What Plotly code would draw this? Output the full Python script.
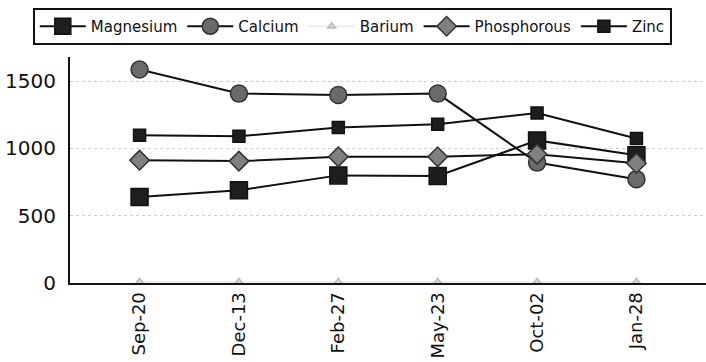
import plotly.graph_objects as go

categories = ["Sep-20", "Dec-13", "Feb-27", "May-23", "Oct-02", "Jan-28"]
magnesium = [640, 690, 800, 795, 1060, 950]
calcium = [1587, 1408, 1398, 1408, 895, 772]
barium = [8, 8, 8, 8, 8, 8]
phosphorous = [913, 906, 938, 938, 958, 890]
zinc = [1099, 1091, 1156, 1180, 1264, 1074]

fig = go.Figure()

def add(name, ys, symbol, size, fill, line_col, lw, outline):
    fig.add_trace(go.Scatter(
        x=categories, y=ys, name=name, mode="lines+markers",
        line=dict(color=line_col, width=lw),
        marker=dict(symbol=symbol, size=size, color=fill,
                    line=dict(color=outline, width=1.5)),
    ))

add("Magnesium", magnesium, "square", 17, "#1e1e1e", "#111111", 2, "#111111")
add("Calcium", calcium, "circle", 17, "#6a6a6a", "#111111", 2, "#333333")
add("Barium", barium, "triangle-up", 7, "#d8d8d8", "#dddddd", 1, "#bbbbbb")
add("Phosphorous", phosphorous, "diamond", 15, "#808080", "#111111", 2, "#333333")
add("Zinc", zinc, "square", 12, "#1e1e1e", "#111111", 2, "#111111")

fig.update_layout(
    width=706, height=362,
    margin=dict(l=70, r=0, t=57, b=79, autoexpand=False),
    paper_bgcolor="white", plot_bgcolor="white",
    font=dict(family="DejaVu Sans", color="#111111"),
    showlegend=True,
    legend=dict(
        orientation="h", x=0.499, xanchor="center", xref="container",
        y=0.978, yanchor="top", yref="container",
        bordercolor="#111111", borderwidth=2,
        font=dict(size=15, family="DejaVu Sans"), itemwidth=46,
        bgcolor="white",
    ),
    xaxis=dict(
        type="category", range=[-0.7, 5.7], tickangle=-90,
        showgrid=False, showline=True, linecolor="#111111", linewidth=2,
        tickfont=dict(size=18), ticks="", zeroline=False, automargin=False,
    ),
    yaxis=dict(
        range=[0, 1680], tickvals=[0, 500, 1000, 1500],
        showgrid=True, gridcolor="#cccccc", griddash="dot", gridwidth=1,
        showline=True, linecolor="#111111", linewidth=2,
        tickfont=dict(size=20), ticks="", zeroline=False, automargin=False,
        ticklabelstandoff=8,
    ),
)

fig.write_html("out.html")
